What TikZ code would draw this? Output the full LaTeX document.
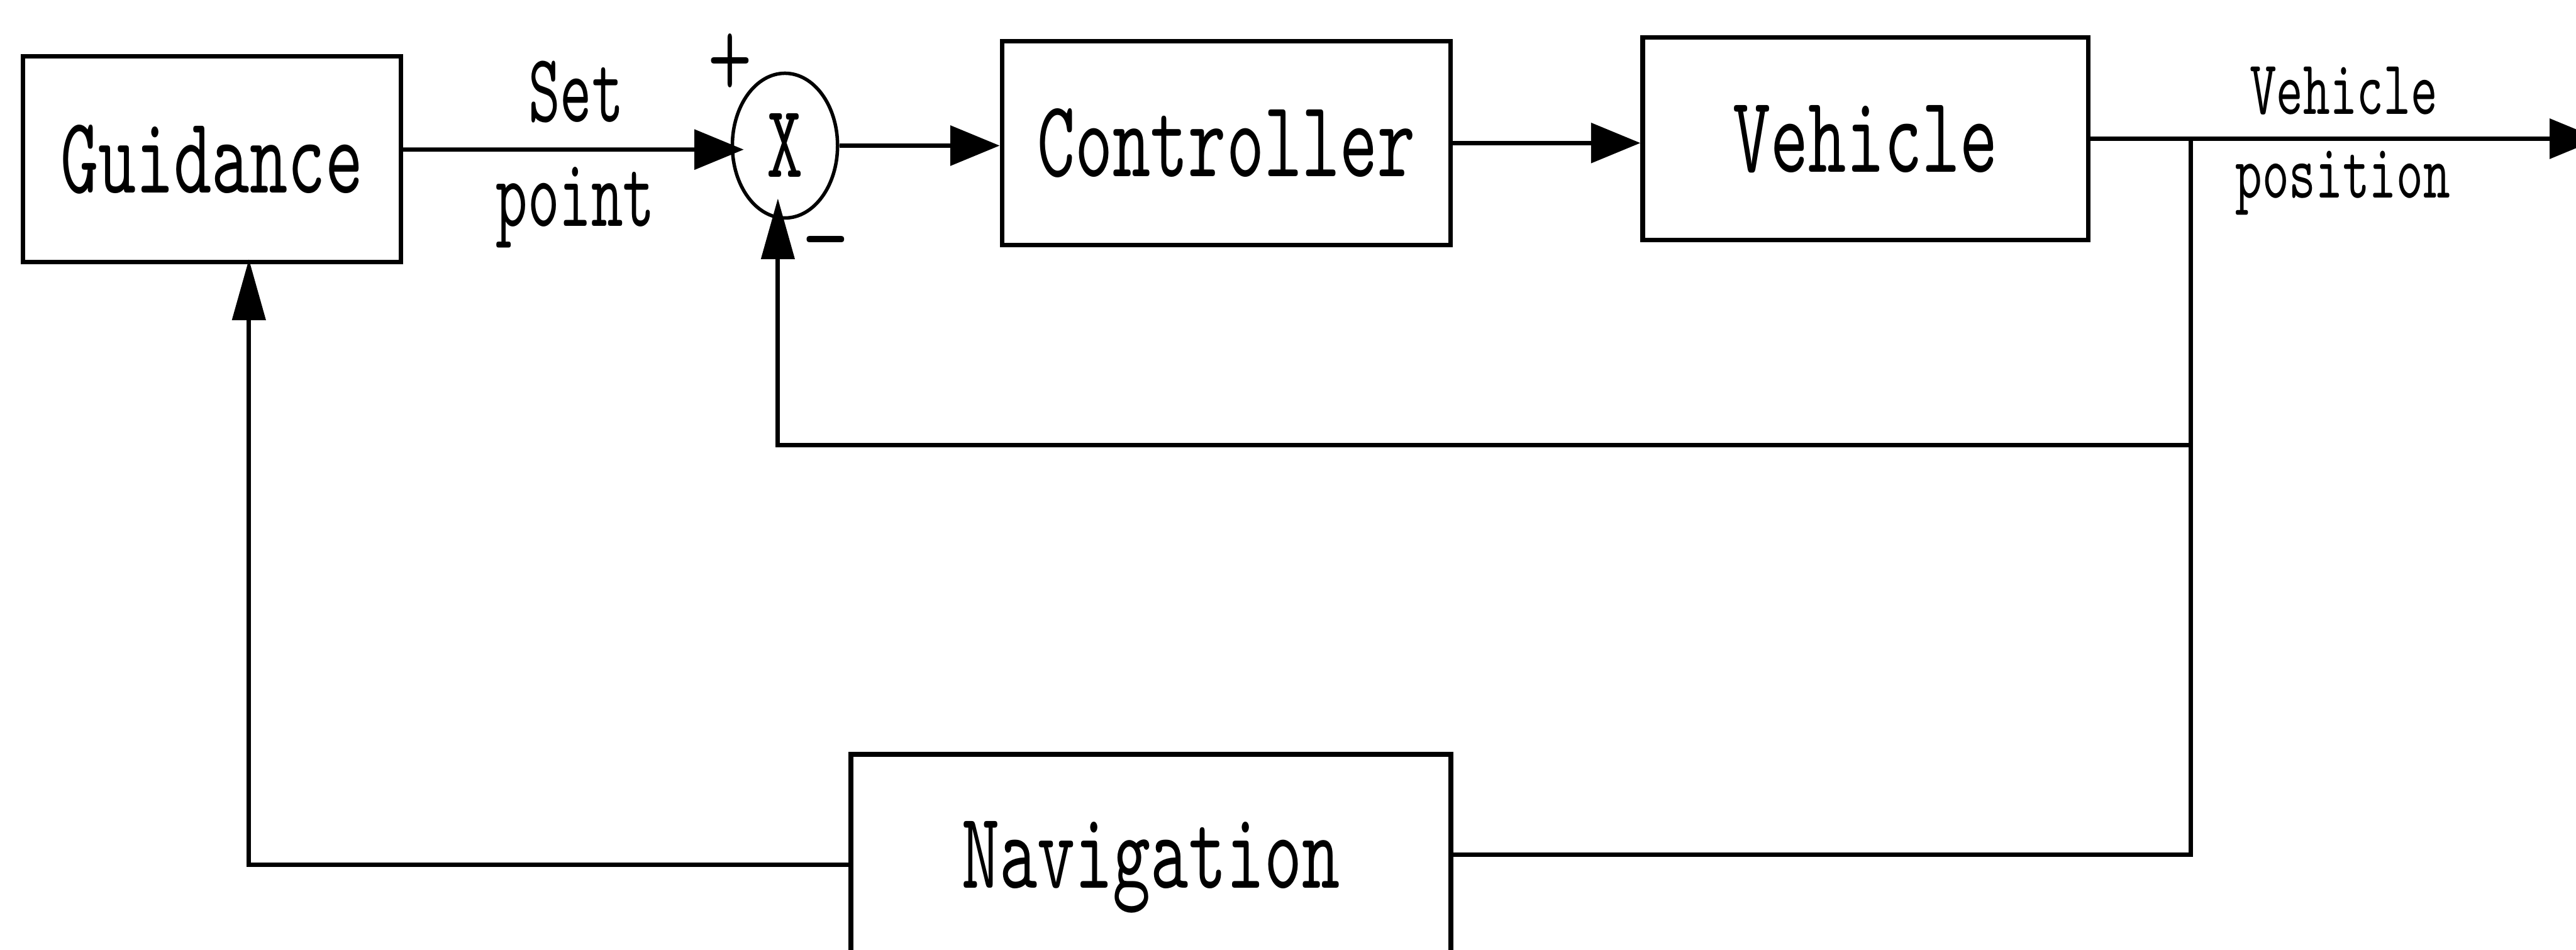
\documentclass[tikz,border=0pt]{standalone}
\usepackage{fontspec}
\usetikzlibrary{arrows.meta,shapes.geometric}
\newfontfamily\mainf{lmmono10-regular.otf}[FakeStretch=0.66]
\newfontfamily\smallf{lmmono10-regular.otf}[FakeStretch=0.62]
\newfontfamily\signf{lmmonolt10-regular.otf}[FakeStretch=0.7]
\begin{document}
\begin{tikzpicture}[x=0.01cm,y=-0.01cm,
  blk/.style={draw, line width=0.8pt, inner sep=0pt,
    font=\mainf\fontsize{18.9}{20}\selectfont, text height=0.407cm, text depth=0pt},
  sumst/.style={draw, ellipse, line width=0.6pt, inner sep=0pt,
    minimum width=0.64cm, minimum height=0.88cm,
    font=\mainf\fontsize{18}{18}\selectfont},
  lbl/.style={inner sep=0pt, font=\smallf\fontsize{16.9}{18}\selectfont},
  vlbl/.style={inner sep=0pt, font=\mainf\fontsize{13.4}{14}\selectfont},
  sgn/.style={inner sep=0pt, font=\signf\fontsize{21}{21}\selectfont},
  line/.style={draw, line width=0.75pt},
  arrh/.style={line, -{Triangle[length=0.30cm,width=0.24cm]}},
  arrv/.style={line, -{Triangle[length=0.37cm,width=0.2cm]}}]
\useasboundingbox (0,0) rectangle (1568,578);
\fill[white] (0,0) rectangle (1568,578);
\clip (0,0) rectangle (1568,578);

\node[blk, minimum width=2.30cm, minimum height=1.25cm] (guid) at (129,96.8) {Guidance};
\node[sumst] (sum) at (477.8,88.6) {X};
\node[blk, minimum width=2.73cm, minimum height=1.24cm] (ctrl) at (746.5,87) {Controller};
\node[blk, minimum width=2.71cm, minimum height=1.23cm] (veh) at (1135.5,84.4) {Vehicle};
\node[blk, minimum width=3.65cm, minimum height=1.22cm] (nav) at (700.5,520) {Navigation};

\node[lbl, anchor=base] (set) at (350.7,73.9) {Set};
\node[lbl, anchor=base] (pt) at (350.2,137.5) {point};
\node[vlbl, anchor=base] (vl) at (1426.5,69.5) {Vehicle};
\node[vlbl, anchor=base] (vp) at (1426,120.5) {position};
\node[sgn] (plus) at (444.5,40) {+};
\node[sgn] (minus) at (502.5,156) {−};

\coordinate (br) at (1333.5,84.4);
\coordinate (fbr) at (1333.5,271);
\coordinate (out) at (1582,84.4);

\draw[arrh, shorten >=-0.08cm] ([yshift=0.058cm]guid.east) -- ([yshift=-0.024cm]sum.west);
\draw[arrh] (sum.east) -- (sum.east -| ctrl.west);
\draw[arrh] (ctrl.east) -- (ctrl.east -| veh.west);
\draw[arrh] (veh.east) -- (out);
\draw[arrv, shorten >=-0.13cm] (br) -- (fbr) -| ([xshift=-0.043cm]sum.south);
\draw[line] (fbr) |- (nav.east);
\draw[arrv, shorten >=-0.03cm] ([yshift=-0.06cm]nav.west) -| ([xshift=0.225cm]guid.south);
\end{tikzpicture}
\end{document}
